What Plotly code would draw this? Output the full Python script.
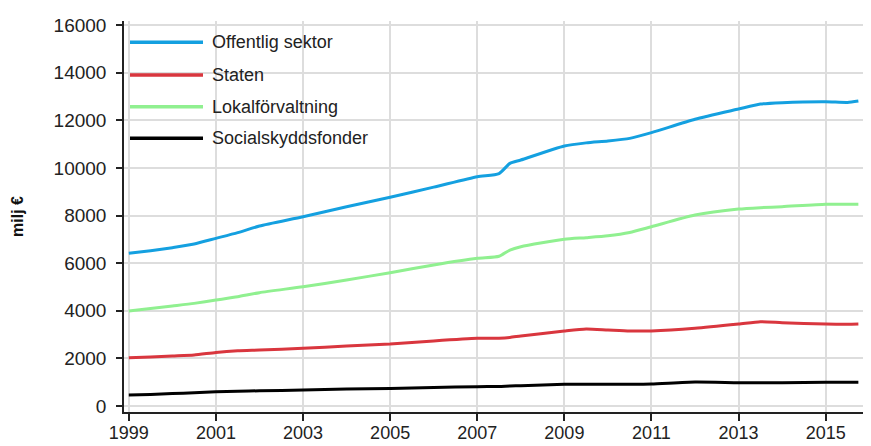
import plotly.graph_objects as go

years = [1999, 1999.5, 2000, 2000.5, 2001, 2001.5, 2002, 2003, 2004, 2005, 2006, 2007,
         2007.5, 2007.75, 2008, 2009, 2009.5, 2010, 2010.5, 2011, 2012, 2013, 2013.5,
         2014, 2015, 2015.5, 2015.75]

offentlig = [6410, 6520, 6650, 6800, 7040, 7280, 7560, 7950, 8370, 8770, 9190, 9630,
             9760, 10190, 10330, 10920, 11050, 11130, 11240, 11480, 12040, 12470, 12680,
             12740, 12780, 12750, 12810]
staten = [2030, 2060, 2100, 2140, 2250, 2320, 2350, 2420, 2520, 2600, 2730, 2840,
          2850, 2880, 2940, 3150, 3230, 3190, 3150, 3150, 3260, 3440, 3540,
          3500, 3440, 3430, 3440]
lokal = [3990, 4090, 4200, 4310, 4450, 4590, 4760, 5010, 5290, 5600, 5920, 6200,
         6290, 6550, 6690, 7000, 7070, 7150, 7290, 7530, 8020, 8270, 8330,
         8370, 8470, 8470, 8470]
social = [460, 480, 520, 560, 600, 620, 640, 670, 710, 740, 780, 810,
          820, 840, 850, 910, 910, 910, 910, 920, 1010, 980, 980,
          980, 995, 1000, 1000]

names = ["Offentlig sektor", "Staten", "Lokalförvaltning", "Socialskyddsfonder"]
series = [offentlig, staten, lokal, social]
colors = ["#14a0e0", "#d9363e", "#90f090", "#000000"]

x_ticks = list(range(1999, 2016, 2))
y_ticks = list(range(0, 16001, 2000))

OFF = 8  # default page body margin
W, H = 871 - OFF, 446 - OFF
L, T = 124 - OFF, 21 - OFF
pw, ph = 747, 391
R = W - L - pw
B = H - T - ph

fig = go.Figure()
for name, vals, col in zip(names, series, colors):
    fig.add_trace(go.Scatter(x=years, y=vals, name=name, mode="lines",
                             line=dict(color=col, width=3, shape="spline", smoothing=0.6),
                             showlegend=False))

# manual legend (screen pixel rows)
leg_rows = [42.3, 75, 106.7, 138.3]
for name, col, py in zip(names, colors, leg_rows):
    yp = (T + OFF + ph - py) / ph
    fig.add_shape(type="line", xref="paper", yref="paper",
                  x0=(130 - L - OFF) / pw, x1=(203 - L - OFF) / pw, y0=yp, y1=yp,
                  line=dict(color=col, width=3.5))
    fig.add_annotation(xref="paper", yref="paper", x=(210 - L - OFF) / pw, y=yp,
                       text=name, showarrow=False, xanchor="left", yanchor="middle",
                       font=dict(size=18, color="#222"))

fig.update_layout(
    width=W, height=H,
    margin=dict(l=L, r=R, t=T, b=B, autoexpand=False),
    plot_bgcolor="white", paper_bgcolor="white",
    font=dict(family="Liberation Sans, Arial, sans-serif", size=19, color="#222"),
)
fig.update_xaxes(range=[1998.89, 2016.04], tickvals=x_ticks, ticktext=[str(v) for v in x_ticks],
                 showline=True, linecolor="#222", linewidth=1.5, automargin=False,
                 ticks="outside", ticklen=7, tickcolor="#222", tickwidth=1.5,
                 ticklabelstandoff=-3, tickfont=dict(size=18),
                 showgrid=True, gridcolor="#dddddd", gridwidth=1.5, zeroline=False)
fig.update_yaxes(range=[-252, 16168], tickvals=y_ticks, ticktext=[str(v) for v in y_ticks],
                 showline=True, linecolor="#222", linewidth=1.5, automargin=False,
                 ticks="outside", ticklen=6, tickcolor="#222", tickwidth=1.5,
                 ticklabelstandoff=6,
                 showgrid=True, gridcolor="#dddddd", gridwidth=1.5, zeroline=False,
                 title=dict(text="<b>milj €</b>", font=dict(size=16, color="#111"), standoff=26))

fig.write_html("out.html")
